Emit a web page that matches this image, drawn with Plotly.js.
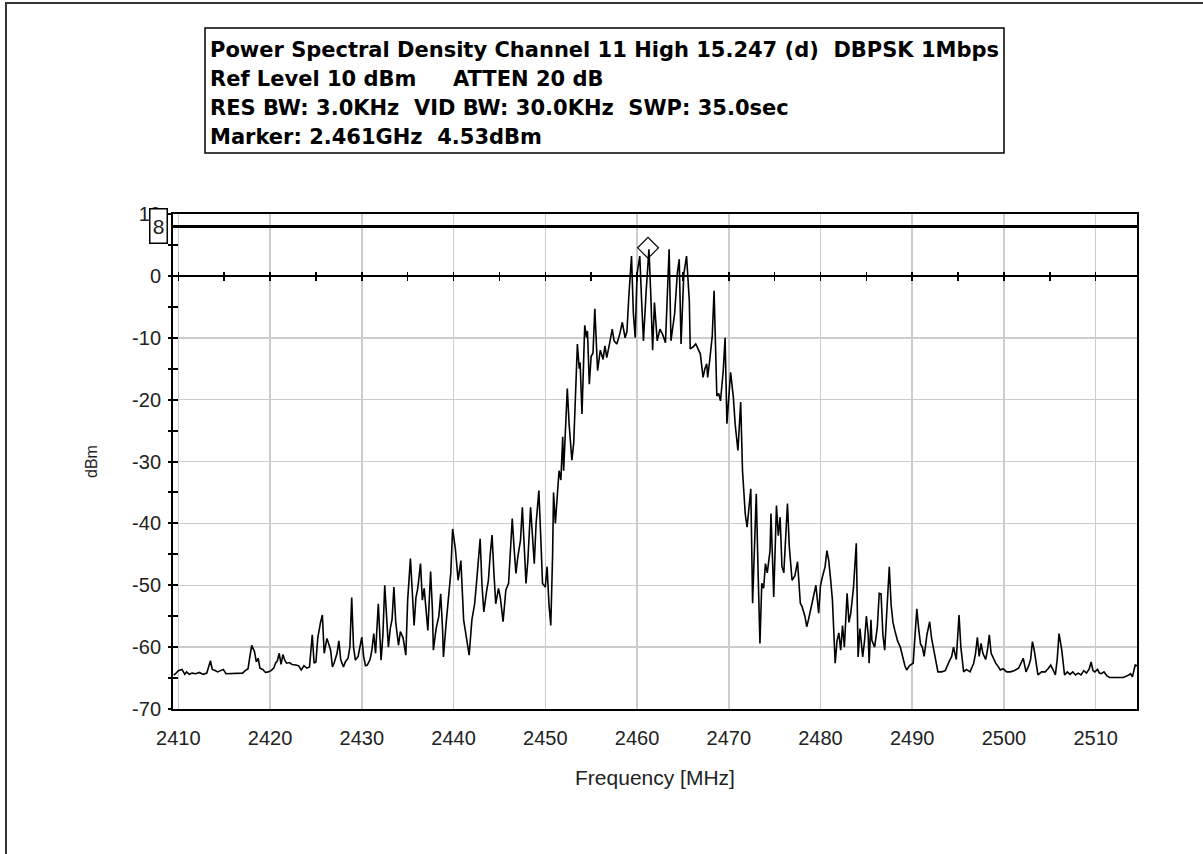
<!DOCTYPE html>
<html>
<head>
<meta charset="utf-8">
<script src="https://cdn.plot.ly/plotly-3.0.1.min.js"></script>
<style>
  html, body { margin: 0; padding: 0; background: #ffffff; }
  #chart { width: 1203px; height: 854px; }
</style>
</head>
<body>
<div id="chart"></div>
<script>
// ---------------- data ----------------
const freqMHz = [
  2409.5,2409.7,2410.0,2410.4,2410.7,2410.9,2411.2,2411.5,2411.9,2412.3,
  2412.7,2413.1,2413.5,2413.7,2413.9,2414.3,2414.6,2414.9,2415.2,2415.5,
  2416.0,2416.5,2417.0,2417.3,2417.6,2417.8,2418.0,2418.3,2418.5,2418.7,
  2418.9,2419.2,2419.5,2419.8,2420.1,2420.4,2420.6,2420.8,2421.0,2421.2,
  2421.4,2421.6,2421.8,2422.1,2422.4,2422.8,2423.1,2423.4,2423.7,2424.0,
  2424.3,2424.6,2424.8,2425.0,2425.2,2425.5,2425.7,2425.9,2426.2,2426.4,
  2426.6,2426.8,2427.0,2427.3,2427.5,2427.7,2428.0,2428.2,2428.5,2428.7,
  2428.9,2429.1,2429.3,2429.6,2429.8,2430.0,2430.2,2430.4,2430.6,2430.9,
  2431.1,2431.3,2431.5,2431.8,2432.1,2432.3,2432.5,2432.7,2432.9,2433.1,
  2433.3,2433.5,2433.7,2434.0,2434.2,2434.5,2434.8,2435.0,2435.3,2435.5,
  2435.7,2435.9,2436.1,2436.4,2436.6,2436.8,2437.0,2437.2,2437.5,2437.7,
  2437.8,2438.1,2438.4,2438.6,2438.8,2438.9,2439.2,2439.5,2439.7,2439.9,
  2440.2,2440.5,2440.8,2441.1,2441.4,2441.7,2442.0,2442.3,2442.5,2442.7,
  2442.9,2443.1,2443.3,2443.6,2443.8,2444.0,2444.2,2444.4,2444.6,2444.9,
  2445.1,2445.4,2445.7,2446.0,2446.2,2446.4,2446.6,2446.8,2447.0,2447.3,
  2447.5,2447.7,2447.9,2448.1,2448.4,2448.6,2448.8,2449.0,2449.3,2449.5,
  2449.7,2450.0,2450.2,2450.4,2450.6,2450.8,2450.9,2451.1,2451.3,2451.5,
  2451.7,2451.9,2452.0,2452.2,2452.4,2452.6,2452.9,2453.1,2453.3,2453.5,
  2453.7,2453.8,2454.0,2454.3,2454.5,2454.6,2454.8,2455.0,2455.2,2455.4,
  2455.6,2455.7,2456.0,2456.3,2456.5,2456.7,2457.0,2457.3,2457.5,2457.8,
  2458.1,2458.4,2458.7,2458.9,2459.1,2459.4,2459.6,2459.8,2460.0,2460.3,
  2460.5,2460.7,2461.0,2461.3,2461.5,2461.7,2461.9,2462.2,2462.5,2462.8,
  2463.1,2463.3,2463.5,2463.7,2463.9,2464.1,2464.4,2464.6,2464.8,2465.1,
  2465.4,2465.7,2465.8,2466.1,2466.4,2466.7,2466.9,2467.2,2467.4,2467.6,
  2467.7,2467.9,2468.2,2468.4,2468.7,2468.9,2469.1,2469.4,2469.6,2469.8,
  2470.0,2470.2,2470.5,2470.7,2471.0,2471.3,2471.5,2471.8,2472.0,2472.2,
  2472.4,2472.6,2472.8,2473.0,2473.2,2473.4,2473.6,2473.8,2474.0,2474.2,
  2474.5,2474.6,2474.8,2474.9,2475.2,2475.4,2475.6,2475.8,2476.0,2476.2,
  2476.4,2476.6,2476.9,2477.2,2477.5,2477.8,2478.0,2478.3,2478.5,2478.7,
  2478.9,2479.2,2479.5,2479.8,2480.0,2480.2,2480.5,2480.7,2480.9,2481.1,
  2481.3,2481.6,2481.8,2482.0,2482.2,2482.4,2482.6,2482.9,2483.1,2483.3,
  2483.6,2483.9,2484.1,2484.3,2484.6,2484.8,2485.0,2485.2,2485.3,2485.5,
  2485.6,2485.9,2486.2,2486.4,2486.6,2486.8,2487.0,2487.2,2487.5,2487.7,
  2487.9,2488.1,2488.4,2488.7,2489.0,2489.2,2489.4,2489.7,2490.1,2490.3,
  2490.5,2490.7,2490.9,2491.1,2491.3,2491.6,2491.9,2492.1,2492.3,2492.6,
  2492.8,2493.2,2493.6,2494.0,2494.3,2494.5,2494.8,2495.1,2495.3,2495.6,
  2495.9,2496.3,2496.7,2496.9,2497.1,2497.3,2497.5,2497.7,2498.0,2498.2,
  2498.4,2498.6,2498.9,2499.1,2499.3,2499.6,2499.9,2500.3,2500.7,2501.1,
  2501.6,2502.1,2502.4,2502.7,2502.9,2503.1,2503.3,2503.5,2503.7,2504.1,
  2504.5,2504.8,2505.1,2505.3,2505.6,2505.8,2506.0,2506.3,2506.6,2506.9,
  2507.2,2507.5,2507.8,2508.1,2508.4,2508.7,2509.0,2509.3,2509.5,2509.7,
  2509.9,2510.2,2510.4,2510.6,2510.9,2511.2,2511.5,2512.0,2512.5,2513.0,
  2513.5,2513.8,2514.0,2514.2,2514.3,2514.5
];
const levelDbm = [
  -64.5,-64.3,-63.8,-63.6,-64.4,-64.0,-64.4,-64.2,-64.3,-64.1,
  -64.4,-64.2,-62.2,-63.6,-63.7,-64.0,-63.8,-63.6,-64.3,-64.3,
  -64.3,-64.3,-64.2,-63.8,-63.5,-61.5,-59.7,-60.7,-62.4,-61.8,
  -63.4,-63.6,-64.1,-64.0,-63.8,-63.4,-62.6,-62.2,-61.0,-62.8,
  -61.2,-62.1,-62.6,-62.5,-62.8,-62.9,-63.0,-63.7,-63.0,-63.4,
  -63.2,-58.0,-62.6,-62.4,-58.5,-56.0,-54.8,-61.0,-58.6,-59.5,
  -60.5,-63.2,-62.5,-61.0,-59.0,-62.0,-63.2,-62.4,-61.8,-60.0,
  -52.0,-60.0,-62.1,-61.5,-60.0,-58.4,-61.5,-63.0,-62.9,-62.0,
  -60.5,-57.8,-61.0,-53.0,-62.1,-58.0,-50.0,-55.0,-60.0,-57.0,
  -55.5,-50.3,-56.0,-59.7,-57.5,-58.5,-61.3,-52.4,-45.7,-51.0,
  -56.5,-52.0,-50.5,-46.5,-52.4,-50.5,-54.0,-57.3,-47.8,-54.0,
  -60.5,-57.0,-55.0,-51.4,-57.0,-61.6,-56.0,-50.5,-48.0,-40.9,
  -44.1,-49.2,-46.0,-55.6,-58.5,-61.3,-55.6,-53.0,-49.7,-46.5,
  -42.5,-50.0,-54.3,-51.0,-49.2,-45.0,-41.9,-48.0,-53.0,-50.5,
  -52.0,-55.9,-50.8,-49.7,-44.4,-39.2,-44.0,-48.1,-45.5,-42.7,
  -37.4,-43.0,-49.7,-46.0,-37.4,-42.0,-46.5,-40.0,-34.7,-42.0,
  -49.7,-50.3,-47.0,-53.0,-56.5,-45.0,-35.0,-40.0,-36.0,-31.5,
  -33.0,-26.0,-31.5,-25.5,-18.2,-24.0,-29.8,-27.0,-18.5,-11.0,
  -15.0,-14.0,-22.3,-8.0,-10.0,-8.9,-17.5,-13.0,-12.5,-5.3,
  -12.0,-15.3,-12.0,-13.5,-11.3,-13.2,-11.0,-8.6,-10.5,-11.0,
  -9.5,-7.5,-10.0,-9.0,-3.5,3.2,-6.0,-10.0,0.3,3.2,
  -4.0,-10.5,-2.4,4.3,-3.0,-12.0,-4.3,-10.5,-8.6,-9.5,
  -10.8,-3.0,4.3,-10.5,-8.0,-6.1,0.5,2.7,-11.0,0.3,
  3.2,-4.0,-11.8,-11.5,-11.0,-12.0,-12.6,-16.4,-15.0,-14.2,
  -16.4,-14.0,-9.7,-2.4,-19.4,-19.0,-20.2,-15.3,-10.0,-23.9,
  -20.0,-15.6,-19.6,-24.0,-28.2,-20.4,-31.5,-38.5,-40.6,-37.0,
  -34.4,-52.9,-42.0,-35.2,-48.0,-59.4,-49.7,-50.5,-46.5,-48.0,
  -44.4,-38.4,-47.0,-51.9,-37.1,-42.0,-39.0,-47.0,-48.0,-43.0,
  -36.8,-43.8,-49.2,-48.5,-46.2,-52.9,-53.5,-55.0,-56.7,-55.5,
  -54.0,-52.0,-50.0,-54.5,-50.0,-48.7,-47.0,-44.4,-46.0,-49.0,
  -52.4,-62.6,-59.0,-57.7,-60.5,-56.5,-60.0,-51.3,-56.0,-54.5,
  -50.3,-43.2,-61.6,-57.0,-61.6,-59.0,-55.0,-58.0,-62.6,-55.6,
  -58.9,-60.0,-56.7,-51.3,-51.4,-58.0,-60.5,-55.0,-47.0,-53.2,
  -56.0,-57.3,-59.0,-60.0,-62.0,-63.0,-63.7,-63.0,-62.6,-58.0,
  -53.8,-57.0,-59.5,-60.0,-61.5,-58.0,-55.9,-58.5,-60.0,-62.0,
  -64.0,-64.0,-63.8,-62.4,-61.5,-60.0,-62.0,-54.8,-60.0,-64.0,
  -63.6,-64.0,-62.6,-61.0,-58.4,-61.5,-59.4,-61.0,-62.0,-60.5,
  -58.0,-61.0,-62.0,-62.6,-63.0,-63.7,-63.5,-64.0,-64.0,-63.8,
  -63.4,-61.8,-64.0,-63.0,-62.0,-59.1,-60.5,-62.5,-64.5,-64.0,
  -64.0,-63.5,-62.9,-63.5,-64.5,-62.0,-57.8,-60.5,-64.5,-64.0,
  -64.4,-64.0,-64.5,-64.2,-64.5,-63.8,-64.2,-63.5,-62.4,-63.8,
  -64.0,-63.6,-64.2,-64.3,-64.0,-64.6,-64.9,-64.9,-64.9,-64.9,
  -64.6,-64.3,-64.8,-63.5,-62.9,-63.0
];
const markerFreqMHz = [2461.2];
const markerLevelDbm = [4.53];
const limitLineDbm = 8;
const limitLabel = "8";
const freqTickVals = [2410,2420,2430,2440,2450,2460,2470,2480,2490,2500,2510];
const freqTickText = ["2410","2420","2430","2440","2450","2460","2470","2480","2490","2500","2510"];
const levelTickVals = [-70,-60,-50,-40,-30,-20,-10,0,10];
const levelTickText = ["-70","-60","-50","-40","-30","-20","-10","0","10"];
const headerLines = [
  "Power Spectral Density Channel 11 High 15.247 (d)  DBPSK 1Mbps",
  "Ref Level 10 dBm     ATTEN 20 dB",
  "RES BW: 3.0KHz  VID BW: 30.0KHz  SWP: 35.0sec",
  "Marker: 2.461GHz  4.53dBm"
];
const xAxisTitle = "Frequency [MHz]";
const yAxisTitle = "dBm";
const xRange = [2409.42, 2514.5];
const yRange = [-70, 10];

// ---------------- layout helpers (pixel -> paper) ----------------
const W = 1203, H = 854;
const M = { l: 173, r: 66, t: 214, b: 145 };
const PW = W - M.l - M.r, PH = H - M.t - M.b;
const px = v => (v - M.l) / PW;
const py = v => (H - M.b - v) / PH;
const zeroPos = (0 - yRange[0]) / (yRange[1] - yRange[0]);

const FONT = "Liberation Sans, Arial, sans-serif";
const HEAD_FONT = "DejaVu Sans, Verdana, sans-serif";

const traces = [
  {
    type: "scatter", mode: "lines",
    x: freqMHz, y: levelDbm,
    line: { color: "#000000", width: 1.6 },
    hoverinfo: "skip", showlegend: false
  },
  {
    type: "scatter", mode: "markers",
    x: markerFreqMHz, y: markerLevelDbm,
    marker: { symbol: "diamond-open", size: 16, color: "#000000", line: { width: 1.2, color: "#000000" } },
    hoverinfo: "skip", showlegend: false
  },
  { type: "scatter", mode: "lines", x: xRange, y: [limitLineDbm, limitLineDbm],
    line: { color: "#000000", width: 3 }, hoverinfo: "skip", showlegend: false },
  // carriers for overlay axes (zero-line tick axes and crossing y ticks)
  { type: "scatter", x: [], y: [], xaxis: "x2", yaxis: "y", showlegend: false, hoverinfo: "skip" },
  { type: "scatter", x: [], y: [], xaxis: "x3", yaxis: "y", showlegend: false, hoverinfo: "skip" },
  { type: "scatter", x: [], y: [], xaxis: "x", yaxis: "y2", showlegend: false, hoverinfo: "skip" }
];

const annotations = headerLines.map((t, i) => ({
  xref: "paper", yref: "paper",
  x: px(208), y: py(50 + i * 29),
  xanchor: "left", yanchor: "middle",
  text: "<b>" + t + "</b>",
  showarrow: false,
  font: { family: HEAD_FONT, size: 21, color: "#000000" }
}));
annotations.push({
  xref: "paper", yref: "y",
  x: px(168), y: limitLineDbm,
  xanchor: "right", yanchor: "middle",
  text: limitLabel, showarrow: false,
  width: 13, height: 30, borderpad: 1.5,
  bgcolor: "#ffffff", bordercolor: "#000000", borderwidth: 1.5,
  font: { family: FONT, size: 21, color: "#222222" }
});

const layout = {
  width: W, height: H,
  margin: M,
  paper_bgcolor: "#ffffff", plot_bgcolor: "#ffffff",
  showlegend: false,
  font: { family: FONT, color: "#222222" },
  xaxis: {
    range: xRange, tickvals: freqTickVals, ticktext: freqTickText,
    showgrid: true, gridcolor: "#cccccc", gridwidth: 1.5,
    zeroline: false, showline: true, linecolor: "#000000", linewidth: 2, mirror: true,
    ticks: "", ticklabelstandoff: 10,
    tickfont: { family: FONT, size: 20, color: "#222222" },
    title: { text: xAxisTitle, font: { family: FONT, size: 21, color: "#222222" }, standoff: 22 }
  },
  xaxis2: {
    overlaying: "x", matches: "x", anchor: "free", position: zeroPos, side: "bottom",
    range: xRange, tick0: 2410, dtick: 5, ticks: "outside", ticklen: 4, tickwidth: 1.5, tickcolor: "#000000",
    showticklabels: false, showgrid: false, zeroline: false,
    showline: true, linecolor: "#000000", linewidth: 2
  },
  xaxis3: {
    overlaying: "x", matches: "x", anchor: "free", position: zeroPos, side: "bottom",
    range: xRange, tick0: 2410, dtick: 5, ticks: "inside", ticklen: 4, tickwidth: 1.5, tickcolor: "#000000",
    showticklabels: false, showgrid: false, zeroline: false, showline: false
  },
  yaxis: {
    range: yRange, tickvals: levelTickVals, ticktext: levelTickText,
    showgrid: true, gridcolor: "#cccccc", gridwidth: 1.5,
    zeroline: false, showline: true, linecolor: "#000000", linewidth: 2, mirror: true,
    ticks: "inside", ticklen: 5, tickwidth: 2, tickcolor: "#000000",
    minor: { dtick: 5, tick0: 0, ticks: "inside", ticklen: 5, tickwidth: 2, tickcolor: "#000000", showgrid: false },
    ticklabelstandoff: 6,
    tickfont: { family: FONT, size: 20, color: "#222222" },
    title: { text: yAxisTitle, font: { family: FONT, size: 16, color: "#222222" }, standoff: 30 }
  },
  yaxis2: {
    overlaying: "y", matches: "y", anchor: "x", side: "left",
    range: yRange, tick0: 0, dtick: 5, ticks: "outside", ticklen: 4, tickwidth: 2, tickcolor: "#000000",
    showticklabels: false, showgrid: false, zeroline: false, showline: false
  },
  shapes: [
    // header box
    { type: "rect", xref: "paper", yref: "paper",
      x0: px(205), x1: px(1004), y0: py(153), y1: py(28),
      line: { color: "#000000", width: 1.5 }, fillcolor: "rgba(0,0,0,0)" },
    // outer frame of the picture
    { type: "rect", xref: "paper", yref: "paper",
      x0: px(6), x1: px(1260), y0: py(900), y1: py(3),
      line: { color: "#333333", width: 2 }, fillcolor: "rgba(0,0,0,0)" }
  ],
  annotations: annotations
};

Plotly.newPlot("chart", traces, layout, { displayModeBar: false, staticPlot: true });
</script>
</body>
</html>
